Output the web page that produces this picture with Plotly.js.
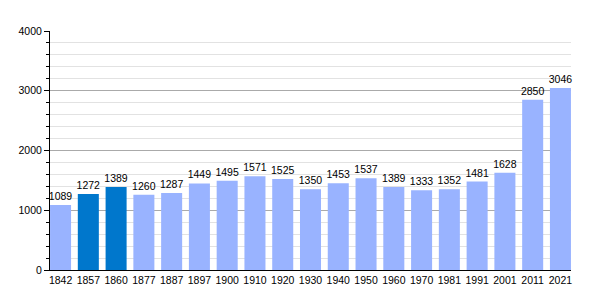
<!DOCTYPE html>
<html><head><meta charset="utf-8">
<script src="https://cdn.plot.ly/plotly-3.0.1.min.js"></script>
<style>html,body{margin:0;padding:0;background:#fff}#c{width:600px;height:300px}</style>
</head><body><div id="c"></div>
<script>
const years = ["1842","1857","1860","1877","1887","1897","1900","1910","1920","1930","1940","1950","1960","1970","1981","1991","2001","2011","2021"];
const population = [1089,1272,1389,1260,1287,1449,1495,1571,1525,1350,1453,1537,1389,1333,1352,1481,1628,2850,3046];
const highlighted = ["1857","1860"];
const lightColor = "#99b3ff";
const darkColor = "#0077cc";
const colors = years.map(y => highlighted.includes(y) ? darkColor : lightColor);

Plotly.newPlot('c', [{
  type: 'bar',
  x: years,
  y: population,
  marker: {color: colors},
  text: population.map(String),
  textposition: 'outside',
  constraintext: 'none',
  cliponaxis: false,
  textfont: {family: 'Liberation Sans, Arial, sans-serif', size: 10.5, color: '#000'},
  hoverinfo: 'none'
}], {
  width: 600, height: 300,
  margin: {l: 50, r: 29, t: 31, b: 30},
  paper_bgcolor: '#fff', plot_bgcolor: '#fff',
  bargap: 0.243,
  showlegend: false,
  font: {family: 'Liberation Sans, Arial, sans-serif', size: 10.5, color: '#000'},
  xaxis: {
    type: 'category',
    range: [-0.38, 18.38],
    showline: true, linecolor: '#000', linewidth: 1,
    ticks: '', showgrid: false, zeroline: false,
    tickfont: {size: 10.5}
  },
  yaxis: {
    range: [0, 4000],
    dtick: 1000, tick0: 0,
    showline: true, linecolor: '#000', linewidth: 1,
    ticks: 'outside', ticklen: 5, tickcolor: '#000',
    showgrid: true, gridcolor: '#aaaaaa', gridwidth: 1,
    zeroline: false,
    tickfont: {size: 10.5},
    minor: {dtick: 200, showgrid: true, gridcolor: '#e2e2e2', gridwidth: 1, ticks: 'outside', ticklen: 3, tickcolor: '#000'}
  }
}, {staticPlot: true, displayModeBar: false});
</script></body></html>
